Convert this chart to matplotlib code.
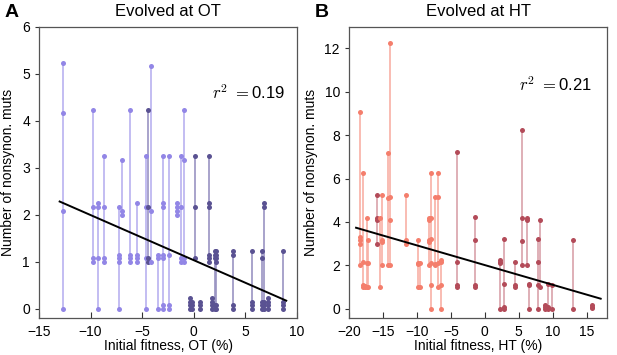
import matplotlib
matplotlib.use("Agg")
import matplotlib.pyplot as plt
import numpy as np

plt.rcParams['font.family'] = ['Liberation Sans', 'DejaVu Sans']
plt.rcParams['mathtext.fontset'] = 'cm'

# ---- Panel A: evolved at OT ----
ot_x = [-12.68, -9.73, -9.25, -8.73, -7.28, -7.0, -6.17, -5.52, -4.68, -4.4, -4.1,
        -3.47, -2.99, -2.44, -1.64, -1.22, -0.96, -0.41, -0.16, 0.07, 0.61, 1.45,
        1.77, 2.03, 2.19, 3.76, 5.66, 6.62, 6.81, 7.23, 8.61]
ot_y = [
    [5.23, 4.17, 2.08, 0],
    [4.23, 2.16, 1.08, 1.0],
    [2.24, 2.16, 1.07, 0],
    [3.24, 2.16, 1.07, 1.0],
    [2.16, 1.15, 1.07, 1.0, 0],
    [3.17, 2.08, 2.0],
    [4.23, 1.15, 1.07, 1.0],
    [2.24, 1.15, 1.07, 1.0],
    [3.24, 2.16, 1.07, 0],
    [4.23, 2.16, 1.07, 1.0],
    [5.16, 2.08, 1.0],
    [1.15, 1.07, 0],
    [3.24, 2.24, 2.16, 1.15, 1.07, 0.08, 0],
    [3.24, 1.15, 0.08, 0],
    [2.24, 2.16, 2.08, 2.0],
    [3.24, 2.16, 1.07, 1.0],
    [4.23, 3.17, 1.07, 1.0],
    [0.23, 0.15, 0.08, 0],
    [0.15, 0.08, 0],
    [3.24, 2.16, 1.07],
    [0.15, 0.08, 0],
    [3.24, 2.24, 2.16, 1.15, 1.07, 1.0],
    [0.23, 0.15, 0.08, 0],
    [1.23, 1.15, 1.07, 0.08, 0],
    [1.23, 1.15, 1.07, 1.0, 0.08, 0],
    [1.23, 1.15, 0.08, 0],
    [1.23, 0.15, 0.08, 0],
    [1.23, 1.07, 0.15, 0.08, 0],
    [2.24, 2.16, 0.15, 0.08, 0],
    [0.23, 0.15, 0.08, 0],
    [1.23, 0.15, 0.08, 0],
]
ot_dark = [0, 0, 0, 0, 0, 0, 0, 0, 0, 1, 0, 0, 0, 0, 0, 0, 0,
           1, 1, 1, 1, 1, 1, 1, 1, 1, 1, 1, 1, 1, 1]
ot_fit = (-0.0961, 1.03)   # slope, intercept
ot_fit_range = (-13.0, 8.96)
ot_r2 = "0.19"

# ---- Panel B: evolved at HT ----
ht_x = [-18.37, -17.93, -17.7, -17.39, -17.15, -15.88, -15.5, -15.1, -14.22, -13.97,
        -11.63, -9.82, -9.57, -8.2, -7.96, -7.28, -6.84, -6.4, -4.1, -1.51, 2.3, 2.79,
        4.4, 5.43, 6.16, 6.45, 7.82, 8.12, 8.8, 9.24, 9.97, 13.0, 15.79]
ht_y = [
    [9.08, 3.31, 3.16, 3.0, 2.0],
    [6.24, 2.15, 1.08, 1.0],
    [1.05, 1.0],
    [4.17, 2.1, 1.0],
    [3.16, 2.1, 1.0],
    [5.24, 4.16, 4.08, 3.0],
    [4.16, 1.0],
    [5.24, 3.16, 3.08, 2.0],
    [7.16, 5.1, 2.0],
    [12.25, 5.17, 4.1, 2.0],
    [5.24, 3.16, 3.0],
    [3.16, 2.1, 2.05, 1.0],
    [2.1, 1.0],
    [4.16, 4.08, 3.16, 3.08, 2.0],
    [6.24, 4.16, 3.2, 2.1, 1.08, 0],
    [5.17, 2.06, 2.0],
    [6.24, 5.17, 2.1, 1.0],
    [2.23, 2.15, 1.08, 0],
    [7.24, 2.15, 1.08, 1.0],
    [4.24, 3.16, 1.08, 1.0],
    [2.23, 2.15, 2.1, 0],
    [3.2, 1.13, 0.08, 0],
    [2.15, 1.08, 1.0],
    [8.25, 4.17, 3.1, 2.0],
    [4.17, 4.1, 2.0],
    [1.16, 1.1, 0],
    [3.2, 2.15, 1.08, 0],
    [4.1, 1.0],
    [0.15, 0.08, 0],
    [1.16, 0.08, 0],
    [1.1, 0],
    [3.16, 0],
    [0.15, 0.1, 0.05],
]
ht_dark = [0, 0, 0, 0, 0, 1, 0, 0, 0, 0, 0, 0, 0, 0, 0, 0, 0, 0, 1, 1,
           1, 1, 1, 1, 1, 1, 1, 1, 1, 1, 1, 1, 1]
ht_fit = (-0.0908, 2.01)
ht_fit_range = (-18.96, 17.07)
ht_r2 = "0.21"

fig = plt.figure(figsize=(6.17, 3.55), dpi=100)
axA = fig.add_axes([39/617, 37/355, 258/617, 291.3/355])
axB = fig.add_axes([349/617, 37/355, 258/617, 291.3/355])


def draw(ax, xs, ys, dark, fit, frng, r2, pal, xlim, ylim, xticks, yticks,
         title, xlabel, letter, r2pos):
    for x, yv, d in zip(xs, ys, dark):
        pc, lc = pal[d]
        ax.plot([x, x], [min(yv), max(yv)], color=lc, lw=1.2, zorder=1)
        ax.plot([x] * len(yv), yv, 'o', color=pc, ms=3.6, mew=0, zorder=2)
    fx = np.array(frng)
    ax.plot(fx, fit[0] * fx + fit[1], color='black', lw=1.4, zorder=3)
    ax.set_xlim(*xlim)
    ax.set_ylim(*ylim)
    ax.set_xticks(xticks)
    ax.set_yticks(yticks)
    ax.tick_params(axis='x', direction='in', length=4, labelsize=10, pad=5,
                   color='#333333')
    ax.tick_params(axis='y', direction='out', length=3, labelsize=10,
                   color='#333333')
    for s in ax.spines.values():
        s.set_color('#555555')
        s.set_linewidth(0.9)
    ax.set_title(title, fontsize=12, pad=8)
    ax.set_xlabel(xlabel, fontsize=10, labelpad=0)
    ax.set_ylabel('Number of nonsynon. muts', fontsize=10, labelpad=5)
    ax.text(r2pos[0], r2pos[1], r'$r^2\ =$' + r2, transform=ax.transAxes,
            fontsize=12, ha='center', va='center')
    ax.text(-0.105, 1.05, letter, transform=ax.transAxes, fontsize=14,
            fontweight='bold', ha='center', va='center')


draw(axA, ot_x, ot_y, ot_dark, ot_fit, ot_fit_range, ot_r2,
     {0: ('#9286e6', '#b9b2f0'), 1: ('#5a5292', '#9993c2')},
     (-15, 10), (-0.2, 6), [-15, -10, -5, 0, 5, 10], [0, 1, 2, 3, 4, 5, 6],
     'Evolved at OT', 'Initial fitness, OT (%)', 'A', (0.81, 0.775))
draw(axB, ht_x, ht_y, ht_dark, ht_fit, ht_fit_range, ht_r2,
     {0: ('#f47e6c', '#f8b0a6'), 1: ('#b34b59', '#d9a2aa')},
     (-20, 18), (-0.43, 13), [-20, -15, -10, -5, 0, 5, 10, 15],
     [0, 2, 4, 6, 8, 10, 12],
     'Evolved at HT', 'Initial fitness, HT (%)', 'B', (0.8, 0.8))

fig.savefig('out.png', dpi=100)
